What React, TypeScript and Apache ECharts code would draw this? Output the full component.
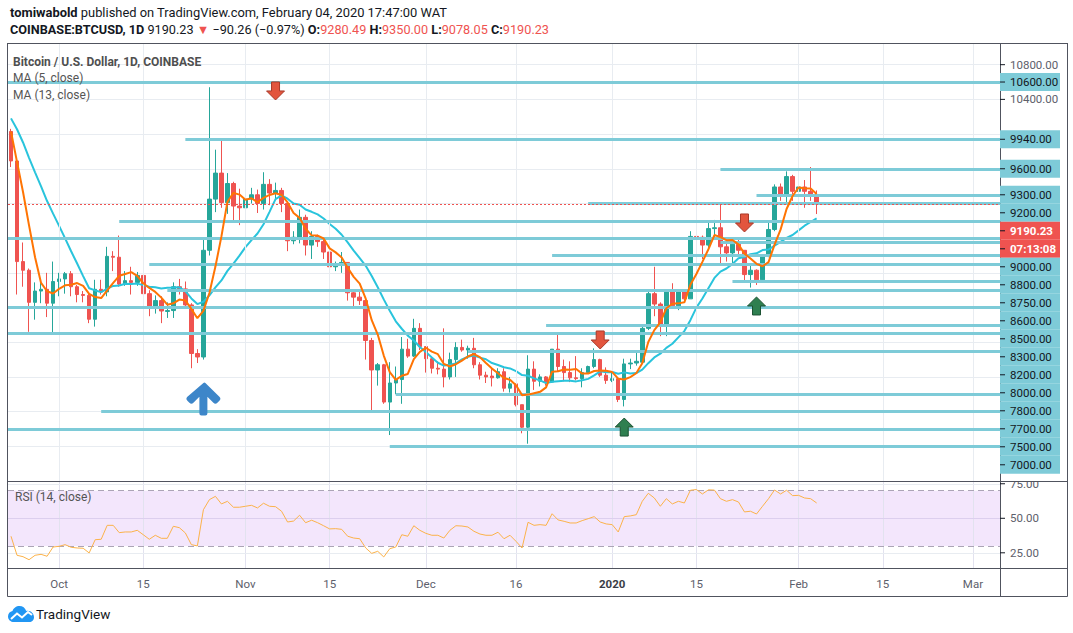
import React, { useEffect, useRef } from "react";
import * as echarts from "echarts";

const FONT = "Roboto, 'Open Sans', sans-serif";

// ---------- data ----------
const START = Date.UTC(2019, 8, 23); // first candle: 23 Sep 2019
const DAYS = 165; // axis runs to 5 Mar 2020

// daily candles, 23 Sep 2019 .. 4 Feb 2020 : [open, high, low, close]
const ohlc: number[][] = [
  [10030, 10060, 9620, 9690], [9690, 9720, 8150, 8530], [8530, 8750, 8240, 8430], [8430, 8450, 7720, 8060],
  [8060, 8290, 7860, 8190], [8190, 8330, 8050, 8210], [8210, 8400, 7890, 8050], [8050, 8530, 7700, 8300],
  [8300, 8400, 8130, 8330], [8330, 8410, 8160, 8390], [8390, 8420, 8130, 8240], [8240, 8260, 8060, 8150],
  [8150, 8190, 8060, 8140], [8140, 8180, 7820, 7865], [7865, 8320, 7780, 8210], [8210, 8320, 8150, 8180],
  [8180, 8700, 8130, 8590], [8590, 8650, 8420, 8580], [8580, 8830, 8240, 8270], [8270, 8420, 8250, 8310],
  [8310, 8470, 8150, 8290], [8290, 8410, 8250, 8370], [8370, 8420, 8080, 8160], [8160, 8200, 7900, 8000],
  [8000, 8140, 7930, 8080], [8080, 8130, 7820, 7960], [7955, 8060, 7880, 7965], [7965, 8290, 7880, 8240],
  [8240, 8330, 8150, 8215], [8215, 8300, 8000, 8030], [8030, 8050, 7300, 7470], [7470, 7520, 7360, 7430],
  [7430, 8800, 7400, 8660], [8660, 10540, 8600, 9250], [9250, 9820, 9100, 9550], [9550, 9940, 9150, 9210],
  [9210, 9550, 9080, 9430], [9430, 9450, 8980, 9170], [9170, 9370, 8950, 9150], [9150, 9280, 9000, 9250],
  [9250, 9380, 9200, 9300], [9300, 9360, 9090, 9200], [9200, 9560, 9130, 9420], [9420, 9480, 9180, 9320],
  [9320, 9440, 9250, 9350], [9350, 9380, 9100, 9200], [9200, 9220, 8650, 8770], [8770, 8880, 8730, 8810],
  [8810, 9130, 8740, 9040], [9040, 9070, 8600, 8720], [8720, 8880, 8560, 8820], [8820, 8840, 8700, 8760],
  [8760, 8790, 8560, 8640], [8640, 8770, 8400, 8470], [8470, 8530, 8420, 8490], [8490, 8640, 8400, 8520],
  [8520, 8520, 8080, 8170], [8170, 8200, 7990, 8120], [8120, 8200, 8030, 8080], [8080, 8090, 7400, 7620],
  [7620, 7650, 6790, 7280], [7280, 7360, 7100, 7340], [7340, 7350, 6890, 6910], [6910, 7370, 6530, 7130],
  [7130, 7320, 7000, 7170], [7170, 7660, 6890, 7520], [7520, 7640, 7420, 7440], [7440, 7870, 7430, 7760],
  [7760, 7820, 7510, 7550], [7550, 7550, 7250, 7410], [7410, 7420, 7240, 7300], [7300, 7380, 7230, 7290],
  [7290, 7760, 7080, 7200], [7200, 7480, 7170, 7400], [7400, 7600, 7200, 7540], [7540, 7630, 7490, 7510],
  [7510, 7560, 7410, 7530], [7530, 7650, 7300, 7340], [7340, 7370, 7170, 7220], [7220, 7260, 7130, 7200],
  [7210, 7290, 7090, 7190], [7190, 7300, 7180, 7260], [7260, 7300, 7030, 7070], [7070, 7200, 7020, 7120],
  [7120, 7120, 6860, 6880], [6880, 6880, 6550, 6620], [6620, 7450, 6430, 7290], [7290, 7380, 7050, 7150],
  [7150, 7230, 7090, 7200], [7200, 7210, 7100, 7140], [7140, 7520, 7130, 7520], [7520, 7700, 7260, 7320],
  [7320, 7400, 7150, 7250], [7250, 7380, 7140, 7190], [7190, 7440, 7160, 7180], [7180, 7300, 7080, 7250],
  [7250, 7330, 7250, 7320], [7320, 7530, 7300, 7400], [7400, 7410, 7200, 7220], [7220, 7310, 7120, 7160],
  [7160, 7250, 7140, 7180], [7180, 7190, 6910, 6940], [6940, 7410, 6860, 7350], [7350, 7410, 7290, 7360],
  [7360, 7490, 7330, 7380], [7370, 7790, 7350, 7760], [7760, 8210, 7740, 8160], [8160, 8470, 7900, 8040],
  [8040, 8060, 7670, 7810], [7810, 8200, 7670, 8190], [8190, 8280, 8000, 8020], [8020, 8200, 7970, 8180],
  [8180, 8200, 8060, 8100], [8100, 8880, 8100, 8820], [8820, 8900, 8600, 8810], [8810, 8830, 8560, 8720],
  [8720, 9000, 8660, 8910], [8910, 9010, 8800, 8920], [8920, 9200, 8480, 8700], [8700, 8740, 8530, 8630],
  [8630, 8790, 8480, 8730], [8730, 8800, 8590, 8660], [8660, 8660, 8310, 8380], [8380, 8500, 8230, 8430],
  [8430, 8440, 8260, 8320], [8320, 8600, 8310, 8590], [8590, 8980, 8580, 8900], [8900, 9420, 8880, 9390],
  [9390, 9430, 9230, 9290], [9290, 9570, 9200, 9510], [9510, 9530, 9230, 9340], [9340, 9440, 9310, 9390],
  [9390, 9470, 9150, 9340], [9340, 9620, 9230, 9280.49], [9280.49, 9350, 9078.05, 9190.23],
];

// closes of the 12 sessions before the window (only feed the moving averages)
const warmupCloses = [10160, 10410, 10360, 10360, 10310, 10260, 10190, 10160, 10270, 10170, 9980, 10030];

const rsiValues = [
  37.0, 23.2, 22.2, 20.0, 23.2, 23.9, 22.5, 29.2, 29.7, 30.9, 29.0, 28.5, 28.3, 24.9, 34.5, 34.8, 44.9, 44.9, 39.6, 40.1,
  40.1, 41.3, 38.1, 34.8, 37.7, 35.5, 35.5, 44.2, 43.2, 39.4, 30.9, 30.0, 56.2, 63.5, 65.9, 60.4, 62.3, 58.0, 58.0, 58.7,
  59.4, 57.5, 60.9, 58.7, 58.4, 55.1, 47.3, 48.0, 52.2, 46.8, 48.6, 46.8, 44.6, 42.3, 42.5, 42.0, 37.0, 35.7, 35.2, 28.5,
  24.6, 26.1, 22.0, 28.0, 29.2, 38.1, 37.0, 44.6, 41.3, 39.1, 37.7, 37.7, 35.7, 41.3, 44.6, 44.4, 43.7, 40.6, 38.6, 37.7,
  37.7, 39.9, 35.2, 37.7, 33.3, 28.5, 47.1, 44.9, 45.4, 44.9, 53.3, 48.8, 47.8, 46.6, 46.6, 48.3, 49.7, 51.2, 47.3, 45.9,
  45.4, 40.1, 51.2, 51.7, 52.6, 62.3, 68.1, 64.7, 58.7, 64.2, 60.4, 62.3, 61.1, 70.3, 70.8, 67.6, 70.6, 70.4, 64.2, 62.3,
  63.5, 61.8, 54.6, 55.1, 53.1, 58.7, 64.2, 70.5, 67.6, 70.3, 66.4, 66.6, 64.7, 64.2, 61.1,
];

// horizontal levels drawn on the chart and the day index where each ray starts (-1 = whole width)
const levelPrices = [10600, 9940, 9600, 9300, 9200, 9000, 8800, 8750, 8600, 8500, 8300, 8200, 8000, 7800, 7700, 7500, 7000, 6800, 6600, 6400];
const levelStarts = [-1, 29, 118, 124, 96, 18, -1, 118, 90, 23, 120, 26, -1, 89, -1, 76, 64, 15, -1, 63];

// arrow annotations
const arrowDays = [44, 98, 122, 102, 124, 32];
const arrowPrices = [10497, 7626, 8975, 6622, 8018, 6945];
const arrowKinds = ["down", "down", "down", "up", "up", "big"];

// axis ticks
const xTickDays = [8, 22, 39, 53, 69, 84, 100, 114, 131, 145, 160];
const xTickLabels = ["Oct", "15", "Nov", "15", "Dec", "16", "2020", "15", "Feb", "15", "Mar"];
const priceTicks = [10800, 10400];
const rsiTicks = [75, 50, 25];
const lastClose = 9190.23;
const countdown = "07:13:08";

// ---------- helpers ----------
const cats: string[] = [];
for (let i = 0; i < DAYS; i++) cats.push(new Date(START + i * 86400000).toISOString().slice(0, 10));
const closes = ohlc.map((r) => r[3]);
function movingAverage(period: number): number[] {
  const all = warmupCloses.concat(closes);
  const off = warmupCloses.length;
  return closes.map((_, i) => {
    let s = 0;
    for (let k = 0; k < period; k++) s += all[off + i - k];
    return +(s / period).toFixed(2);
  });
}

const CYAN = "#7ecbd8";
const RED = "#ef5350";
const GREEN = "#26a69a";
const GRID = "#e8ecf1";
const FRAME = "#50535e";

echarts.graphic.registerShape(
  "tvcloud",
  echarts.graphic.extendPath(
    "M6,16 C2.5,16 0,13.4 0,10.4 C0,7.8 1.9,5.6 4.5,5.1 C5.4,2.1 8.2,0 11.5,0 C14.6,0 17.3,2 18.2,4.9 C18.6,4.8 19.1,4.8 19.5,4.8 C23.1,4.8 26,7.7 26,11.2 C26,13.9 23.9,16 21.4,16 Z",
    {}
  )
);

const downPath = "path://M5,0 L13,0 L13,9 L18,9 L9,18 L0,9 L5,9 Z";
const upPath = "path://M9,0 L18,9 L13,9 L13,18 L5,18 L5,9 L0,9 Z";
const bigPath = "path://M17,1 Q18,0 19,1 L33,15 Q35,17 33,19 L31,21 Q29,23 27,21 L21,15 L21,32 Q21,34 19,34 L15,34 Q13,34 13,32 L13,15 L7,21 Q5,23 3,21 L1,19 Q-1,17 1,15 Z";

function buildOption(): any {
  const candles = ohlc.map(([o, h, l, c]) => [o, c, l, h]);
  const levelData: any[] = levelPrices.map((p, i) =>
    levelStarts[i] < 0
      ? { yAxis: p }
      : [{ coord: [cats[levelStarts[i]], p] }, { coord: [cats[DAYS - 1], p], x: 1000 }]
  );
  levelData.push({ yAxis: lastClose, lineStyle: { color: RED, width: 1, type: [2, 2] } });

  const arrowData = arrowDays.map((d, i) => {
    const k = arrowKinds[i];
    if (k === "down")
      return { coord: [cats[d], arrowPrices[i]], symbol: downPath, symbolSize: [18, 18], itemStyle: { color: "#e2553e", borderColor: "#a83a2a", borderWidth: 1 } };
    if (k === "up")
      return { coord: [cats[d], arrowPrices[i]], symbol: upPath, symbolSize: [18, 18], itemStyle: { color: "#2f7f50", borderColor: "#1c5233", borderWidth: 1 } };
    return { coord: [cats[d], arrowPrices[i]], symbol: bigPath, symbolSize: [34, 33], itemStyle: { color: "#3d86c9" } };
  });

  const vLines = xTickDays.map((d) => ({ xAxis: cats[d] }));

  return {
    animation: false,
    textStyle: { fontFamily: FONT },
    grid: [
      { left: 8, width: 992, top: 43, height: 438 },
      { left: 8, width: 992, top: 481, height: 87 },
    ],
    xAxis: [
      {
        type: "category", data: cats, gridIndex: 0, boundaryGap: true,
        axisLine: { show: false }, axisTick: { show: false }, axisLabel: { show: false }, splitLine: { show: false },
      },
      {
        type: "category", data: cats, gridIndex: 1, boundaryGap: true,
        axisLine: { show: false }, axisTick: { show: false }, splitLine: { show: false },
        axisLabel: {
          show: true, margin: 10, fontSize: 11.5, color: "#5d606b", fontFamily: FONT,
          interval: (i: number) => xTickDays.indexOf(i) >= 0,
          formatter: (_v: string, i: number) => {
            const k = xTickDays.indexOf(i);
            if (k < 0) return "";
            return xTickLabels[k] === "2020" ? "{y|2020}" : xTickLabels[k];
          },
          rich: { y: { fontWeight: "bold", color: "#3a3d46", fontSize: 11.5, fontFamily: FONT } },
        },
      },
    ],
    yAxis: [
      {
        type: "value", gridIndex: 0, min: 6000, max: 11050, interval: 400, scale: false,
        axisLine: { show: false }, axisTick: { show: false }, axisLabel: { show: false },
        splitLine: { show: true, lineStyle: { color: GRID, width: 1 } },
      },
      {
        type: "value", gridIndex: 1, min: 14, max: 77,
        axisLine: { show: false }, axisTick: { show: false }, axisLabel: { show: false }, splitLine: { show: false },
      },
    ],
    series: [
      {
        name: "vgrid", type: "line", xAxisIndex: 0, yAxisIndex: 0, data: [], z: 1, silent: true,
        markLine: { symbol: "none", silent: true, label: { show: false }, lineStyle: { color: GRID, width: 1, type: "solid" }, data: vLines },
      },
      {
        name: "BTCUSD", type: "candlestick", xAxisIndex: 0, yAxisIndex: 0, data: candles, z: 3, barWidth: 4,
        itemStyle: { color: GREEN, color0: RED, borderColor: GREEN, borderColor0: RED, borderWidth: 1 },
      },
      {
        name: "MA13", type: "line", xAxisIndex: 0, yAxisIndex: 0, data: movingAverage(13), z: 4,
        symbol: "none", lineStyle: { color: "#29c4dc", width: 2 }, silent: true,
      },
      {
        name: "MA5", type: "line", xAxisIndex: 0, yAxisIndex: 0, data: movingAverage(5), z: 5,
        symbol: "none", lineStyle: { color: "#ff7403", width: 2 }, silent: true,
      },
      {
        name: "drawings", type: "line", xAxisIndex: 0, yAxisIndex: 0, data: [], z: 6, silent: true,
        markLine: { symbol: "none", silent: true, label: { show: false }, lineStyle: { color: CYAN, width: 3, type: "solid" }, data: levelData },
        markPoint: { silent: true, label: { show: false }, data: arrowData },
      },
      {
        name: "rsiBand", type: "line", xAxisIndex: 1, yAxisIndex: 1, data: [], z: 1, silent: true,
        markArea: { silent: true, itemStyle: { color: "#f3e6fc" }, data: [[{ yAxis: 70 }, { yAxis: 30 }]] },
      },
      {
        name: "rsiGrid", type: "line", xAxisIndex: 1, yAxisIndex: 1, data: [], z: 2, silent: true,
        markLine: {
          symbol: "none", silent: true, label: { show: false },
          lineStyle: { color: GRID, width: 1, type: "solid" },
          data: [
            ...xTickDays.map((d) => ({ xAxis: cats[d], lineStyle: { color: "#e2e2ef" } })),
            { yAxis: 75 },
            { yAxis: 25 },
            { yAxis: 50, lineStyle: { color: "#dccfee" } },
            { yAxis: 70, lineStyle: { color: "#aba4b6", type: [6, 4] } },
            { yAxis: 30, lineStyle: { color: "#aba4b6", type: [6, 4] } },
          ],
        },
      },
      {
        name: "RSI", type: "line", xAxisIndex: 1, yAxisIndex: 1, data: rsiValues, z: 5,
        symbol: "none", lineStyle: { color: "#fbb24a", width: 1 }, silent: true,
      },
    ],
  };
}

function txt(x: number, y: number, text: string, fill: string, size = 11.5, weight = "normal", z = 120): any {
  return {
    type: "text", x, y, z, silent: true,
    style: { text, fill, fontSize: size, fontFamily: FONT, fontWeight: weight, verticalAlign: "middle", align: "left" },
  };
}

function buildGraphics(chart: any): any[] {
  const py = (v: number) => chart.convertToPixel({ yAxisIndex: 0 }, v) as number;
  const ry = (v: number) => chart.convertToPixel({ yAxisIndex: 1 }, v) as number;
  const els: any[] = [];
  const AX = 1000;
  const top = py(11050);
  const mainBottom = py(6000);

  // header
  els.push({
    type: "text", x: 10, y: 12, z: 120, silent: true,
    style: {
      text: "{b|tomiwabold} published on TradingView.com, February 04, 2020 17:47:00 WAT",
      fill: "#131722", fontSize: 12.9, fontFamily: FONT, verticalAlign: "middle",
      rich: { b: { fontWeight: "bold", fill: "#131722", fontSize: 12.9, fontFamily: FONT } },
    },
  });
  els.push({
    type: "text", x: 10, y: 29, z: 120, silent: true,
    style: {
      text: "{b|COINBASE:BTCUSD, 1D} 9190.23 {r|▼} −90.26 (−0.97%) {b|O:}{r|9280.49} {b|H:}{r|9350.00} {b|L:}{r|9078.05} {b|C:}{r|9190.23}",
      fill: "#131722", fontSize: 12.7, fontFamily: FONT, verticalAlign: "middle",
      rich: {
        b: { fontWeight: "bold", fill: "#131722", fontSize: 12.7, fontFamily: FONT },
        r: { fill: RED, fontSize: 12.7, fontFamily: FONT },
      },
    },
  });

  // legends
  els.push(txt(13, 62, "Bitcoin / U.S. Dollar, 1D, COINBASE", "#4f4f4f", 12, "bold"));
  els.push(txt(13, 78, "MA (5, close)", "#555", 12));
  els.push(txt(13, 95, "MA (13, close)", "#555", 12));
  els.push(txt(15, 497, "RSI (14, close)", "#555", 12));

  // price axis: regular ticks
  for (const v of priceTicks) {
    const y = py(v);
    els.push({ type: "line", z: 110, silent: true, shape: { x1: AX, y1: y, x2: AX + 5, y2: y }, style: { stroke: "#131722", lineWidth: 1 } });
    els.push(txt(AX + 10, y, v.toFixed(2), "#5d606b", 11.5, "normal", 110));
  }

  // price axis: stacked level labels
  const items: any[] = levelPrices.map((p) => ({ ideal: py(p), text: p.toFixed(2), bg: CYAN, color: "#131722", weight: "normal" }));
  items.push({ ideal: py(lastClose), text: lastClose.toFixed(2), bg: RED, color: "#fff", weight: "bold" });
  items.push({ ideal: py(lastClose) + 0.01, text: countdown, bg: RED, color: "#fff", weight: "bold" });
  items.sort((a, b) => a.ideal - b.ideal);
  let prev = -Infinity;
  for (const it of items) {
    it.y = Math.max(it.ideal, prev + 18);
    prev = it.y;
  }
  for (const it of items) {
    if (it.y + 9 > mainBottom) continue;
    els.push({ type: "rect", z: 112, silent: true, shape: { x: AX, y: it.y - 9, width: 60, height: 18 }, style: { fill: it.bg } });
    els.push({ type: "line", z: 113, silent: true, shape: { x1: AX, y1: it.y, x2: AX + 5, y2: it.y }, style: { stroke: "#131722", lineWidth: 1 } });
    els.push(txt(AX + 10, it.y, it.text, it.color, 11.5, it.weight, 114));
  }

  // RSI axis
  for (const v of rsiTicks) {
    const y = ry(v);
    els.push({ type: "line", z: 110, silent: true, shape: { x1: AX, y1: y, x2: AX + 5, y2: y }, style: { stroke: "#131722", lineWidth: 1 } });
    els.push(txt(AX + 10, y, v.toFixed(2), "#5d606b", 11.5, "normal", 110));
  }
  // white strip between price labels and the RSI pane
  els.push({ type: "rect", z: 111, silent: true, shape: { x: AX + 1, y: mainBottom - 6.5, width: 66, height: 6.5 }, style: { fill: "#fff" } });

  // frame
  const fr = (x1: number, y1: number, x2: number, y2: number, z = 130) => ({
    type: "line", z, silent: true, shape: { x1, y1, x2, y2 }, style: { stroke: FRAME, lineWidth: 1 },
  });
  const left = 7.5, right = 1067.5, bottom = 596.5;
  const rsiBottom = ry(14);
  els.push(fr(left, top + 0.5, right, top + 0.5));
  els.push(fr(left, top, left, bottom));
  els.push(fr(right, top, right, bottom));
  els.push(fr(left, bottom, right, bottom));
  els.push(fr(left, Math.round(mainBottom) + 0.5, right, Math.round(mainBottom) + 0.5));
  els.push(fr(left, Math.round(rsiBottom) + 0.5, right, Math.round(rsiBottom) + 0.5));
  els.push(fr(AX + 0.5, top, AX + 0.5, bottom, 105));

  // TradingView logo
  els.push({
    type: "group", x: 8, y: 606, z: 120, silent: true,
    children: [
      { type: "tvcloud", z: 120, shape: {}, style: { fill: "#2196f3" } },
      { type: "polyline", z: 121, shape: { points: [[3, 13], [9, 7.5], [14, 11.5], [20, 6], [24, 9]] }, style: { stroke: "#fff", lineWidth: 2, fill: "none" } },
    ],
  });
  els.push(txt(36, 614, "TradingView", "#131722", 13.5));
  return els;
}

export default function App() {
  const ref = useRef<HTMLDivElement>(null);
  useEffect(() => {
    const el = ref.current;
    if (!el) return;
    const chart = echarts.init(el, null, { renderer: "svg" });
    chart.setOption(buildOption());
    chart.setOption({ graphic: buildGraphics(chart) });
    return () => chart.dispose();
  }, []);
  return (
    <div
      ref={ref}
      style={{ position: "absolute", left: 0, top: 0, width: 1073, height: 633, background: "#ffffff" }}
    />
  );
}
